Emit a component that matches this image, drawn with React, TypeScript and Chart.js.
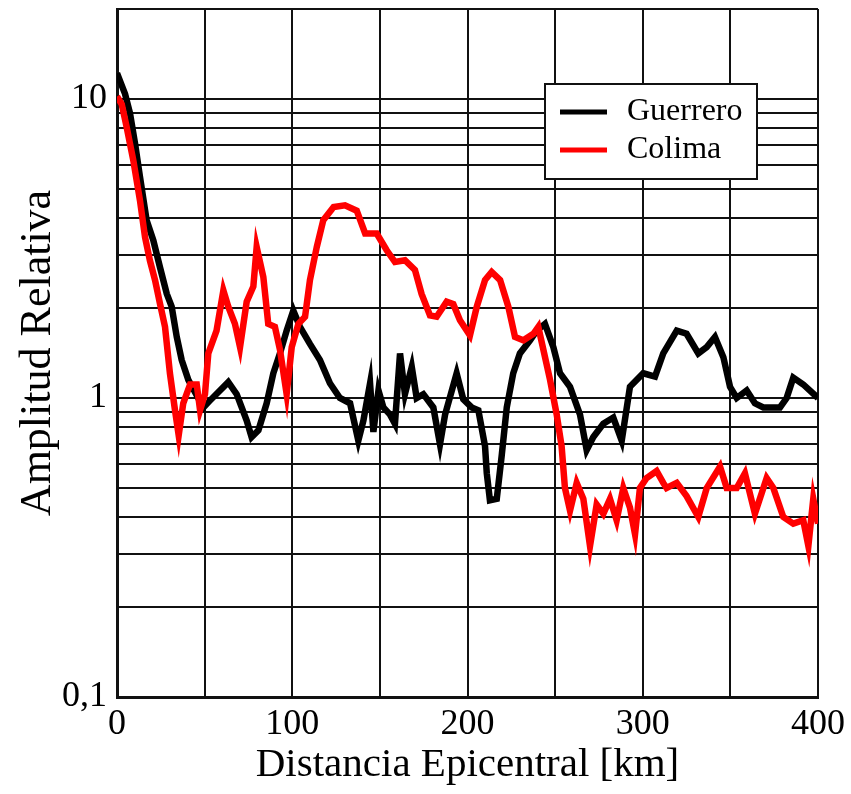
import React, { useEffect, useRef } from "react";
import { Chart, registerables } from "chart.js";

Chart.register(...registerables);

const FONT = '"Liberation Serif", "Times New Roman", serif';

// Epicentral distance (km) and relative amplitude for each series
const guerreroKm = [
  0, 4.6, 7.4, 10.3, 13.1, 16.9, 20.7, 24.5, 28.4, 31.2,
  34.1, 36.9, 40.7, 49.3, 53, 63.5, 68.3, 74, 76.8, 80.7,
  85.4, 89.2, 93, 96.8, 100.6, 104.4, 110, 115.8, 121.5, 127.2,
  133, 137.7, 140.6, 144.4, 146.3, 149.2, 152, 155.8, 158.6, 161.5,
  164.3, 168.2, 171, 174.8, 180.5, 184.3, 187.2, 193.8, 197.6, 202.4,
  206.2, 210, 211, 212.8, 216.7, 219.5, 222.4, 226.1, 229.9, 235.7,
  239.5, 244.2, 249, 252.8, 258.5, 264.2, 268, 271.8, 277.5, 283.2,
  288, 292.7, 300.3, 307, 311.7, 319.4, 325, 331.7, 336.5, 341.2,
  346, 349.8, 353.6, 359.3, 364, 368.8, 378.3, 382.1, 385.9, 391.6,
  400,
];
const guerreroAmp = [
  12.2, 10.4, 8.96, 7.1, 5.5, 3.93, 3.37, 2.74, 2.23, 2.02,
  1.6, 1.34, 1.15, 0.93, 0.98, 1.13, 1.03, 0.84, 0.74, 0.78,
  0.96, 1.21, 1.41, 1.68, 1.96, 1.73, 1.52, 1.34, 1.12, 1.0,
  0.96, 0.72, 0.84, 1.12, 0.77, 1.06, 0.93, 0.88, 0.82, 1.41,
  1.03, 1.27, 1.0, 1.03, 0.93, 0.7, 0.88, 1.21, 0.99, 0.93,
  0.91, 0.69, 0.56, 0.455, 0.46, 0.64, 0.93, 1.21, 1.41, 1.56,
  1.68, 1.77, 1.48, 1.21, 1.09, 0.88, 0.67, 0.74, 0.82, 0.86,
  0.72, 1.09, 1.21, 1.18, 1.41, 1.68, 1.64, 1.41, 1.48, 1.6,
  1.37, 1.09, 1.0, 1.06, 0.96, 0.93, 0.93, 1.0, 1.17, 1.11,
  1.0,
];
const colimaKm = [
  0, 2.7, 5.5, 9.3, 13.1, 16, 18.8, 21.7, 24.5, 27.4,
  30.2, 33.1, 35.2, 37.8, 41.7, 45.5, 47.4, 50.2, 52.1, 56.8,
  60.7, 63.5, 67.3, 70.2, 74, 77.8, 79.7, 83.5, 86.3, 90.1,
  93, 96.8, 99.7, 103.5, 107.3, 110.1, 114, 117.7, 123.6, 130.1,
  136.8, 141.6, 148.2, 153.9, 158.6, 164.3, 170, 173.8, 178.6, 182.4,
  188.1, 191.9, 195.7, 201.4, 205.3, 210, 213.8, 218.6, 223.3, 227.1,
  231.9, 237.6, 240.4, 243.3, 247.1, 250.9, 253.7, 255.6, 258.5, 262.3,
  266.1, 269.9, 273.7, 277.5, 281.3, 285.1, 288.9, 292.7, 295.6, 298.4,
  302.2, 307.9, 311.7, 313.6, 319.4, 325, 331.7, 336.5, 344.1, 347.9,
  353.6, 358.3, 364, 370.7, 374.5, 380.2, 385.9, 391.6, 394.5, 397.3,
  400,
];
const colimaAmp = [
  10.2, 9.6, 8.06, 6.24, 4.58, 3.45, 2.88, 2.48, 2.07, 1.73,
  1.21, 0.91, 0.75, 0.96, 1.11, 1.11, 0.91, 1.03, 1.41, 1.68,
  2.29, 2.02, 1.77, 1.48, 2.1, 2.36, 3.2, 2.54, 1.77, 1.73,
  1.45, 1.03, 1.48, 1.77, 1.87, 2.48, 3.2, 3.93, 4.35, 4.41,
  4.23, 3.55, 3.55, 3.12, 2.85, 2.89, 2.68, 2.23, 1.89, 1.87,
  2.1, 2.06, 1.82, 1.62, 2.02, 2.48, 2.64, 2.48, 2.02, 1.6,
  1.56, 1.64, 1.73, 1.45, 1.15, 0.88, 0.69, 0.5, 0.42, 0.52,
  0.46, 0.32, 0.44, 0.41, 0.46, 0.39, 0.5, 0.43, 0.35, 0.5,
  0.54, 0.57, 0.52, 0.5, 0.52, 0.47, 0.4, 0.5, 0.59, 0.5,
  0.5, 0.56, 0.41, 0.54, 0.5, 0.4, 0.38, 0.39, 0.32, 0.46,
  0.38,
];

const yTickValues = [
  0.1, 0.2, 0.3, 0.4, 0.5, 0.6, 0.7, 0.8, 0.9,
  1, 2, 3, 4, 5, 6, 7, 8, 9, 10, 20,
];
const yTickLabels: Record<string, string> = { "0.1": "0,1", "1": "1", "10": "10" };
const xTickLabels = [0, 100, 200, 300, 400];

const seriesNames = ["Guerrero", "Colima"];
const seriesColors = ["#000000", "#ff0000"];

const legendPlugin = {
  id: "boxLegend",
  afterDraw(chart: any) {
    const ctx = chart.ctx as CanvasRenderingContext2D;
    const { right, top } = chart.chartArea;
    const bx = right - 273;
    const by = top + 75;
    const bw = 212;
    const bh = 95;
    ctx.save();
    ctx.fillStyle = "#ffffff";
    ctx.fillRect(bx, by, bw, bh);
    ctx.strokeStyle = "#111";
    ctx.lineWidth = 2;
    ctx.strokeRect(bx, by, bw, bh);
    seriesNames.forEach((name, i) => {
      const cy = by + 28 + i * 38;
      ctx.strokeStyle = seriesColors[i];
      ctx.lineWidth = 5;
      ctx.beginPath();
      ctx.moveTo(bx + 15, cy);
      ctx.lineTo(bx + 62, cy);
      ctx.stroke();
      ctx.fillStyle = "#000";
      ctx.font = `32px ${FONT}`;
      ctx.textBaseline = "middle";
      ctx.textAlign = "left";
      ctx.fillText(name, bx + 82, cy);
    });
    ctx.restore();
  },
};

export default function App() {
  const ref = useRef<HTMLCanvasElement>(null);
  useEffect(() => {
    document.body.style.margin = "0";
    const chart = new Chart(ref.current!, {
      type: "line",
      data: {
        datasets: [
          {
            label: "Colima",
            data: colimaKm.map((x, i) => ({ x, y: colimaAmp[i] })),
            borderColor: seriesColors[1],
            borderWidth: 6.5,
            pointRadius: 0,
            tension: 0,
            order: 0,
          },
          {
            label: "Guerrero",
            data: guerreroKm.map((x, i) => ({ x, y: guerreroAmp[i] })),
            borderColor: seriesColors[0],
            borderWidth: 6.5,
            pointRadius: 0,
            tension: 0,
            order: 1,
          },
        ],
      },
      options: {
        animation: false,
        responsive: false,
        layout: { padding: { top: 9, right: 33, left: 0, bottom: 0 } },
        plugins: { legend: { display: false }, tooltip: { enabled: false } },
        scales: {
          x: {
            type: "linear",
            min: 0,
            max: 400,
            afterBuildTicks: (s: any) => {
              const t = [];
              for (let v = 0; v <= 400; v += 50) t.push({ value: v });
              s.ticks = t;
            },
            ticks: {
              autoSkip: false,
              maxRotation: 0,
              color: "#000",
              padding: 6,
              font: { family: FONT, size: 36 },
              callback: (v: any) => (xTickLabels.includes(Number(v)) ? String(v) : ""),
            },
            grid: { color: "#111", lineWidth: 2, drawTicks: false },
            border: { color: "#111", width: 3 },
            title: {
              display: true,
              text: "Distancia Epicentral [km]",
              color: "#000",
              font: { family: FONT, size: 41, lineHeight: 1 },
              padding: { top: 0, bottom: 8 },
            },
            afterFit: (s: any) => {
              s.height = 97;
            },
          },
          y: {
            type: "logarithmic",
            min: 0.1,
            max: 20,
            afterBuildTicks: (s: any) => {
              s.ticks = yTickValues.map((v) => ({ value: v }));
            },
            ticks: {
              autoSkip: false,
              color: "#000",
              padding: 10,
              font: { family: FONT, size: 36 },
              callback: (v: any) => yTickLabels[String(v)] ?? "",
            },
            grid: { color: "#111", lineWidth: 2, drawTicks: false },
            border: { color: "#111", width: 3 },
            title: {
              display: true,
              text: "Amplitud Relativa",
              color: "#000",
              font: { family: FONT, size: 44, lineHeight: 1 },
              padding: { top: 16, bottom: 0 },
            },
            afterFit: (s: any) => {
              s.width = 117;
              s.paddingTop = 0;
              s.paddingBottom = 0;
            },
          },
        },
      },
      plugins: [legendPlugin],
    });
    return () => chart.destroy();
  }, []);
  return (
    <div style={{ position: "absolute", left: 0, top: 0, width: 851, height: 794 }}>
      <canvas ref={ref} width={851} height={794} style={{ display: "block" }} />
    </div>
  );
}
